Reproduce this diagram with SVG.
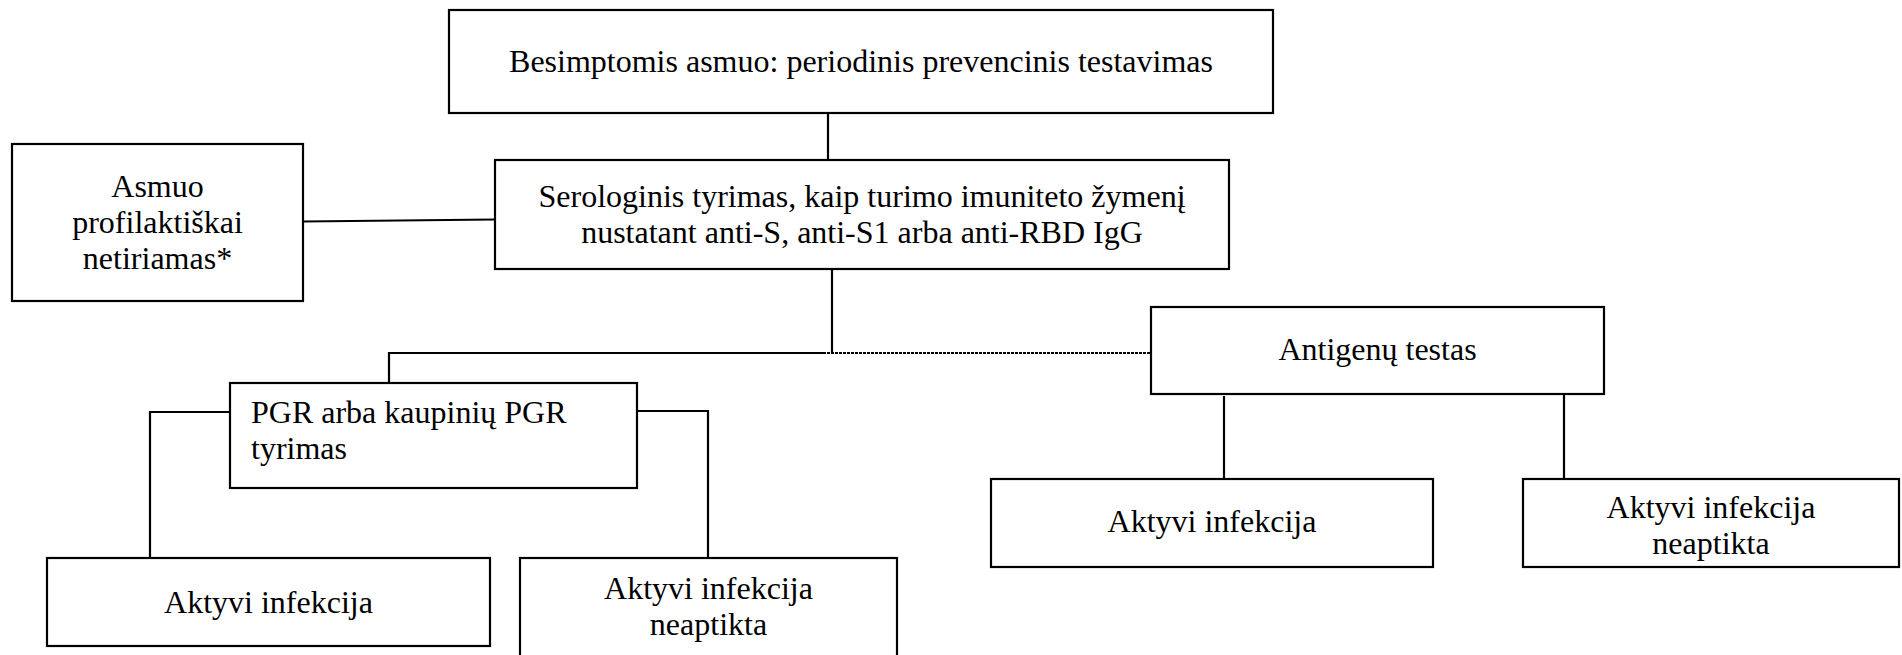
<svg xmlns="http://www.w3.org/2000/svg" width="1902" height="655" viewBox="0 0 1902 655">
  <style>
    .box { fill: #ffffff; stroke: #000000; stroke-width: 2.2; }
    .t { font-family: 'Liberation Serif', 'Times New Roman', Times, serif; font-size: 32px; fill: #000000; }
    .c { text-anchor: middle; }
    .ln { stroke: #000000; stroke-width: 2.2; fill: none; }
    .dot { stroke: #000000; stroke-width: 2.2; fill: none; stroke-dasharray: 3 1; }
  </style>
  <rect width="1902" height="655" fill="#ffffff"/>
  <g id="connectors">
    <line class="ln" x1="828" y1="113" x2="828" y2="160"/>
    <line class="ln" x1="303" y1="221.5" x2="495" y2="219.5"/>
    <line class="ln" x1="832" y1="269" x2="832" y2="353"/>
    <polyline class="ln" points="389,383 389,353 823,353"/>
    <line class="dot" x1="823" y1="353" x2="1151" y2="353"/>
    <polyline class="ln" points="230,412 150,412 150,558"/>
    <polyline class="ln" points="637,411 708,411 708,558"/>
    <line class="ln" x1="1224" y1="396" x2="1224" y2="479"/>
    <line class="ln" x1="1564" y1="394" x2="1564" y2="479"/>
  </g>
  <g id="node-top">
    <rect class="box" x="449" y="10" width="824" height="103"/>
    <text class="t c" x="861" y="72">Besimptomis asmuo: periodinis prevencinis testavimas</text>
  </g>
  <g id="node-asmuo">
    <rect class="box" x="12" y="144" width="291" height="157"/>
    <text class="t c" x="157.5" y="197">Asmuo</text>
    <text class="t c" x="157.5" y="233">profilaktiškai</text>
    <text class="t c" x="157.5" y="269">netiriamas*</text>
  </g>
  <g id="node-serologinis">
    <rect class="box" x="495" y="160" width="734" height="109"/>
    <text class="t c" x="862" y="207">Serologinis tyrimas, kaip turimo imuniteto žymenį</text>
    <text class="t c" x="862" y="243">nustatant anti-S, anti-S1 arba anti-RBD IgG</text>
  </g>
  <g id="node-pgr">
    <rect class="box" x="230" y="383" width="407" height="105"/>
    <text class="t" x="251" y="423">PGR arba kaupinių PGR</text>
    <text class="t" x="251" y="459">tyrimas</text>
  </g>
  <g id="node-antigenu">
    <rect class="box" x="1151" y="307" width="453" height="87"/>
    <text class="t c" x="1377.5" y="360">Antigenų testas</text>
  </g>
  <g id="node-pgr-aktyvi">
    <rect class="box" x="47" y="558" width="443" height="88"/>
    <text class="t c" x="268.5" y="613">Aktyvi infekcija</text>
  </g>
  <g id="node-pgr-neaptikta">
    <rect class="box" x="520" y="558" width="377" height="110"/>
    <text class="t c" x="708.5" y="599">Aktyvi infekcija</text>
    <text class="t c" x="708.5" y="635">neaptikta</text>
  </g>
  <g id="node-ag-aktyvi">
    <rect class="box" x="991" y="479" width="442" height="88"/>
    <text class="t c" x="1212" y="532">Aktyvi infekcija</text>
  </g>
  <g id="node-ag-neaptikta">
    <rect class="box" x="1523" y="479" width="376" height="88"/>
    <text class="t c" x="1711" y="518">Aktyvi infekcija</text>
    <text class="t c" x="1711" y="554">neaptikta</text>
  </g>
</svg>
